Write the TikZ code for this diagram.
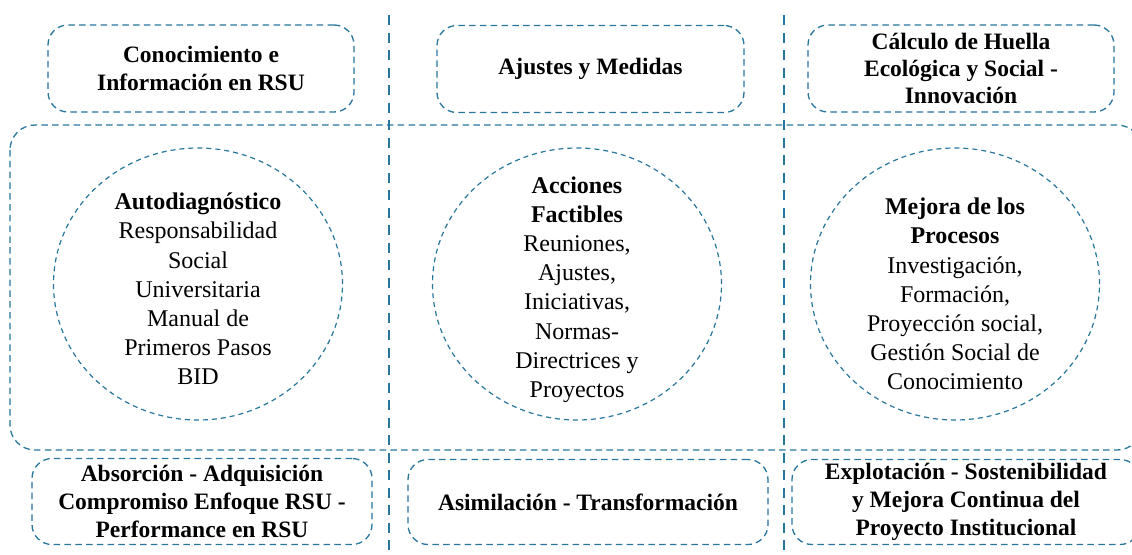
\documentclass[tikz,border=0pt]{standalone}
\usepackage{fontspec}
\setmainfont{Liberation Serif}
\usetikzlibrary{shapes.geometric}
\definecolor{lineblue}{RGB}{38,118,158}
\begin{document}
\begin{tikzpicture}[x=1pt,y=-1pt,
  box/.style={draw=lineblue, line width=1.3pt, dash pattern=on 6.5pt off 4.3pt,
    rounded corners=20pt, inner sep=0pt, align=center,
    font=\fontsize{23.5}{28}\selectfont\bfseries},
  bigbox/.style={draw=lineblue, line width=1.3pt, dash pattern=on 6.5pt off 4.3pt,
    rounded corners=25pt},
  sepline/.style={draw=lineblue, line width=1.8pt, dash pattern=on 10pt off 7.5pt},
  ring/.style={draw=lineblue, line width=1.2pt, dash pattern=on 5pt off 4pt,
    ellipse, minimum width=289pt, minimum height=272pt, inner sep=0pt},
  ringtext/.style={align=center, inner sep=0pt, font=\fontsize{24}{29.2}\selectfont}
]
\useasboundingbox (0,0) rectangle (1132,554);
\clip (0,0) rectangle (1132,554);

% separators
\draw[sepline] (389,15) -- (389,554);
\draw[sepline] (784,15) -- (784,554);

% big frame
\draw[bigbox] (10,125) rectangle (1142,450);

% top boxes
\node[box, minimum width=306pt, minimum height=87pt] (top1) at (201,68.5) {Conocimiento e\\Información en RSU};
\node[box, minimum width=307pt, minimum height=87pt] (top2) at (590.5,69) {Ajustes y Medidas};
\node[box, minimum width=306pt, minimum height=87pt, font=\fontsize{23.5}{27}\selectfont\bfseries] (top3) at (961,68.5) {Cálculo de Huella\\Ecológica y Social -\\Innovación};

% bottom boxes
\node[box, minimum width=340pt, minimum height=86pt] (bot1) at (202,501.5) {Absorción - Adquisición\\Compromiso Enfoque RSU -\\Performance en RSU};
\node[box, minimum width=360pt, minimum height=85pt] (bot2) at (588,502) {Asimilación - Transformación};
\node[box, minimum width=348pt, minimum height=85pt] (bot3) at (966,502) {Explotación - Sostenibilidad\\y Mejora Continua del\\Proyecto Institucional};

% circles
\node[ring] (c1) at (198,284) {};
\node[ring] (c2) at (577,284) {};
\node[ring] (c3) at (955,284) {};

\node[ringtext] (t1) at (198,289) {\textbf{Autodiagnóstico}\\Responsabilidad\\Social\\Universitaria\\Manual de\\Primeros Pasos\\BID};
\node[ringtext] (t2) at (577,289.5) {\textbf{Acciones}\\\textbf{Factibles}\\Reuniones,\\Ajustes,\\Iniciativas,\\Normas-\\Directrices y\\Proyectos};
\node[ringtext] (t3) at (955,294) {\textbf{Mejora de los}\\\textbf{Procesos}\\Investigación,\\Formación,\\Proyección social,\\Gestión Social de\\Conocimiento};
\end{tikzpicture}
\end{document}
